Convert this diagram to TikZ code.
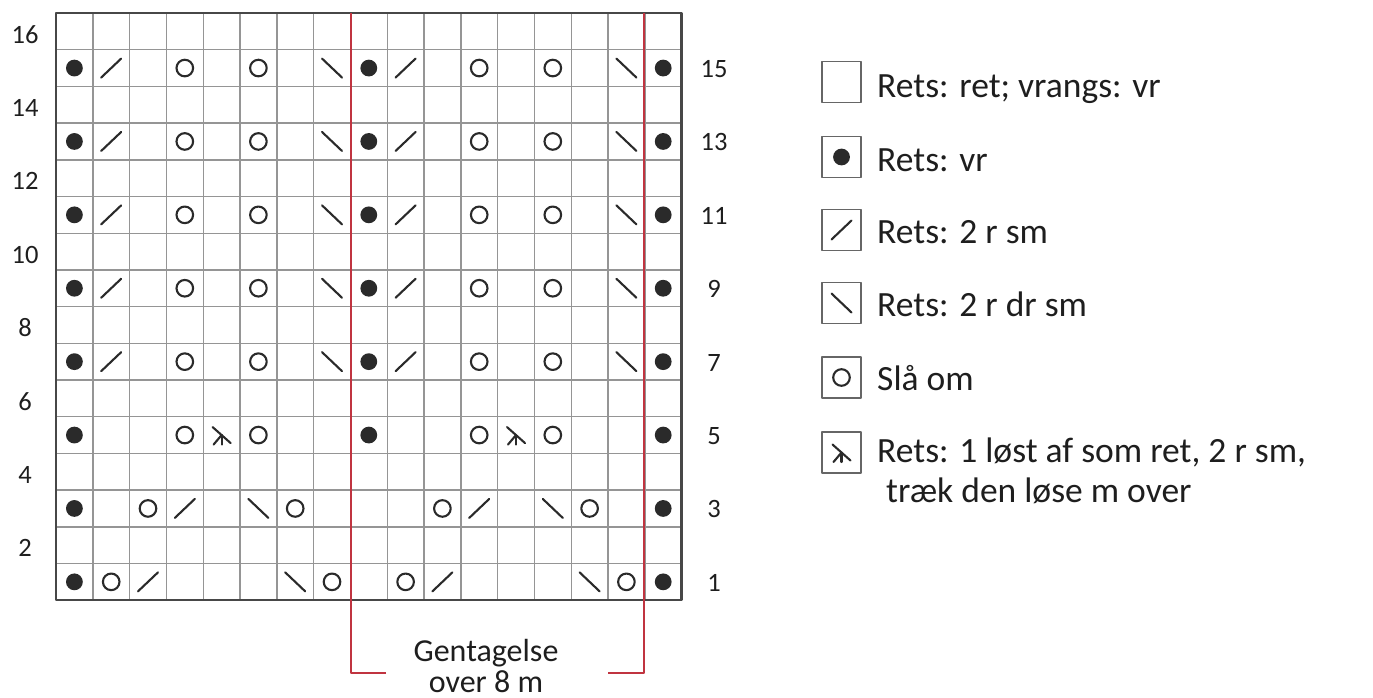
\documentclass[tikz,border=0pt]{standalone}
\usepackage{fontspec}
\setmainfont{Carlito}
\definecolor{gridgray}{HTML}{959595}
\definecolor{bordergray}{HTML}{474747}
\definecolor{symcol}{HTML}{2A2A2A}
\definecolor{redrep}{HTML}{C03440}
\definecolor{textcol}{HTML}{1E1E1E}
\tikzset{
  gridline/.style={draw=gridgray, line width=1.4pt},
  borderline/.style={draw=bordergray, line width=2.5pt},
  symline/.style={draw=symcol, line width=2.1pt, line cap=round},
  redline/.style={draw=redrep, line width=2.8pt},
  legbox/.style={draw=gray!80!black, line width=1.7pt},
  numlbl/.style={text=textcol, font=\fontsize{26.5}{30}\selectfont, inner sep=0pt},
  legtxt/.style={text=textcol, font=\fontsize{35.5}{40}\selectfont, inner sep=0pt, anchor=base west},
  reptxt/.style={text=textcol, font=\fontsize{32}{38}\selectfont, inner sep=0pt, anchor=base},
  pics/kdot/.style={code={\fill[symcol] (0,0) circle (8.4);}},
  pics/kyo/.style={code={\draw[symline] (0,0) circle (8.3);}},
  pics/kslash/.style={code={\draw[symline] (-10,9.5) -- (10,-9.5);}},
  pics/kbslash/.style={code={\draw[symline] (-10,-9.5) -- (10,9.5);}},
  pics/kskp/.style={code={\draw[symline] (-9,-8) -- (9,8); \draw[symline] (0,0) -- (-8,9.5); \draw[symline] (0,0) -- (0,9.5);}},
}
\newcommand\kx[1]{56+(#1-0.5)*36.8}
\newcommand\ky[1]{600.2-(#1-0.5)*36.7}
\begin{document}
\begin{tikzpicture}[x=1pt,y=-1pt,line join=round]
\useasboundingbox (0,0) rectangle (1373,698);
% grid
\foreach \i in {1,...,16} \draw[gridline] ({56+\i*36.8},13) -- ({56+\i*36.8},600.2);
\foreach \j in {1,...,15} \draw[gridline] (56,{13+\j*36.7}) -- (681.6,{13+\j*36.7});
\draw[borderline] (56,13) rectangle (681.6,600.2);
% rows 7-15
\foreach \r in {7,9,11,13,15} {
  \foreach \c in {1,9,17} \pic at ({\kx{\c}},{\ky{\r}}) {kdot};
  \foreach \c in {2,10} \pic at ({\kx{\c}},{\ky{\r}}) {kslash};
  \foreach \c in {4,6,12,14} \pic at ({\kx{\c}},{\ky{\r}}) {kyo};
  \foreach \c in {8,16} \pic at ({\kx{\c}},{\ky{\r}}) {kbslash};
}
% row 5
\foreach \c in {1,9,17} \pic at ({\kx{\c}},{\ky{5}}) {kdot};
\foreach \c in {4,6,12,14} \pic at ({\kx{\c}},{\ky{5}}) {kyo};
\foreach \c in {5,13} \pic at ({\kx{\c}},{\ky{5}}) {kskp};
% row 3
\foreach \c in {1,17} \pic at ({\kx{\c}},{\ky{3}}) {kdot};
\foreach \c in {3,7,11,15} \pic at ({\kx{\c}},{\ky{3}}) {kyo};
\foreach \c in {4,12} \pic at ({\kx{\c}},{\ky{3}}) {kslash};
\foreach \c in {6,14} \pic at ({\kx{\c}},{\ky{3}}) {kbslash};
% row 1
\foreach \c in {1,17} \pic at ({\kx{\c}},{\ky{1}}) {kdot};
\foreach \c in {2,8,10,16} \pic at ({\kx{\c}},{\ky{1}}) {kyo};
\foreach \c in {3,11} \pic at ({\kx{\c}},{\ky{1}}) {kslash};
\foreach \c in {7,15} \pic at ({\kx{\c}},{\ky{1}}) {kbslash};
% row numbers
\foreach \r in {2,4,...,16} \node[numlbl] (left\r) at (25,{\ky{\r}+3}) {\r};
\foreach \r in {1,3,...,15} \node[numlbl] (right\r) at (714,{\ky{\r}+1}) {\r};
% repeat bracket
\coordinate (rl) at (351,13);
\coordinate (rr) at (644,13);
\draw[redline] (386,673) -- (rl |- 0,673) -- (rl);
\draw[redline] (608,673) -- (rr |- 0,673) -- (rr);
\node[reptxt] (rep1) at (486,661) {Gentagelse};
\node[reptxt] (rep2) at (486,692) {over 8 m};
% legend
\foreach \yy in {82,157,230,303,377.5,452.5}
  \draw[legbox] (822,{\yy-20.5}) rectangle (861,{\yy+20.5});
\pic at (841.5,157) {kdot};
\pic at (841.5,230) {kslash};
\pic at (841.5,303) {kbslash};
\pic at (841.5,377.5) {kyo};
\pic at (841.5,452.5) {kskp};
\node[legtxt] (t1) at (877,98) {Rets: ret; vrangs: vr};
\node[legtxt] (t2) at (877,171.5) {Rets: vr};
\node[legtxt] (t3) at (877,243.5) {Rets: 2 r sm};
\node[legtxt] (t4) at (877,316.5) {Rets: 2 r dr sm};
\node[legtxt] (t5) at (877,390) {Slå om};
\node[legtxt] (t6) at (877,462.5) {Rets: 1 løst af som ret, 2 r sm,};
\node[legtxt] (t7) at (886,502) {træk den løse m over};
\end{tikzpicture}
\end{document}
